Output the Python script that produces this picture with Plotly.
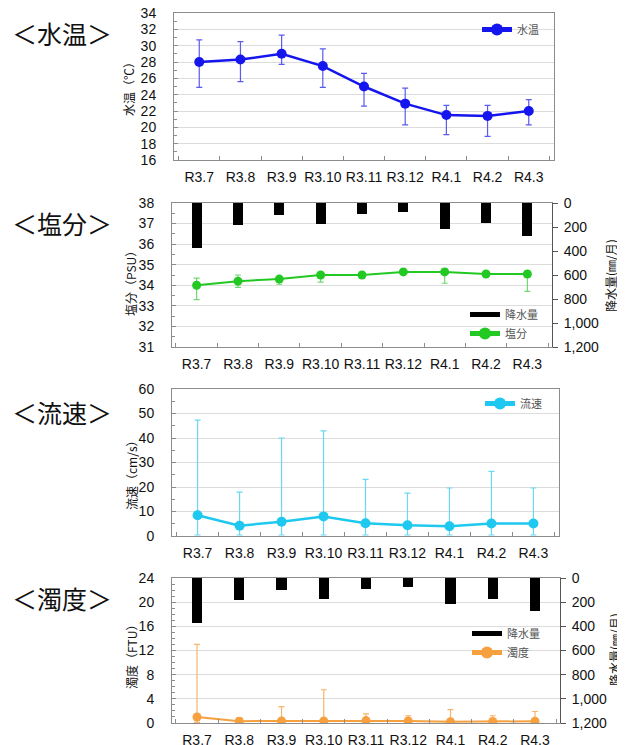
import plotly.graph_objects as go

# ---------------- data ----------------
months = ["R3.7", "R3.8", "R3.9", "R3.10", "R3.11", "R3.12", "R4.1", "R4.2", "R4.3"]

temp = [28.0, 28.3, 29.0, 27.5, 25.0, 22.9, 21.5, 21.4, 22.0]
temp_max = [30.7, 30.5, 31.3, 29.6, 26.6, 24.8, 22.7, 22.7, 23.4]
temp_min = [24.9, 25.6, 27.7, 24.9, 22.6, 20.3, 19.1, 18.9, 20.3]

sal = [34.0, 34.2, 34.3, 34.5, 34.5, 34.65, 34.65, 34.55, 34.55]
sal_max = [34.35, 34.5, 34.4, 34.6, 34.6, 34.75, 34.8, 34.65, 34.6]
sal_min = [33.3, 33.9, 34.05, 34.15, 34.4, 34.55, 34.1, 34.45, 33.7]

rain = [375, 180, 97, 172, 95, 76, 215, 170, 275]

speed = [8.5, 4.2, 5.8, 8.0, 5.2, 4.4, 4.0, 5.1, 5.1]
speed_max = [47.3, 17.9, 40.0, 42.9, 23.1, 17.5, 19.6, 26.4, 19.6]
speed_min = [0.4, 0.4, 0.4, 0.4, 0.4, 0.4, 0.4, 0.4, 0.4]

turb = [1.0, 0.3, 0.35, 0.35, 0.4, 0.35, 0.2, 0.25, 0.3]
turb_max = [13.0, 0.9, 2.7, 5.5, 1.5, 1.2, 2.2, 1.2, 1.9]
turb_min = [0.1, 0.05, 0.05, 0.05, 0.05, 0.05, 0.0, 0.0, 0.05]

# ---------------- helpers ----------------
W, H = 625, 745
OFF = 8  # page body margin compensation
def fx(x):
    return (x - OFF) / W
def fy(y):
    return 1 - (y - OFF) / H
def xd(a, b):
    return [fx(a), fx(b)]
def yd(top, bottom):
    return [fy(bottom), fy(top)]

FONT = "Liberation Sans, Arial, sans-serif"
CJK = "Noto Sans CJK JP, sans-serif"
FRAME = "#8c8c8c"
GRID = "#dcdcdc"

def errs(v, hi, lo):
    return ([h - a for a, h in zip(v, hi)], [a - l for a, l in zip(v, lo)])

fig = go.Figure()

def series(x_ax, y_ax, vals, hi, lo, color, ecolor, name, legend, size=10, lw=2.5):
    up, dn = errs(vals, hi, lo)
    fig.add_trace(go.Scatter(
        x=months, y=vals, mode="lines+markers", name=name,
        xaxis=x_ax, yaxis=y_ax, legend=legend,
        line=dict(color=color, width=lw),
        marker=dict(color=color, size=size),
        error_y=dict(type="data", symmetric=False, array=up, arrayminus=dn,
                     color=ecolor, thickness=1.2, width=3),
    ))

def rain_bars(x_ax, y_ax, legend):
    fig.add_trace(go.Bar(
        x=months, y=rain, name="降水量", xaxis=x_ax, yaxis=y_ax, legend=legend,
        marker=dict(color="#000000", line=dict(width=0)), width=0.24,
        showlegend=False,
    ))
    # legend-only entry drawn as a wide black swatch
    fig.add_trace(go.Scatter(
        x=[None], y=[None], mode="lines", name="降水量", xaxis=x_ax, yaxis=y_ax,
        legend=legend, line=dict(color="#000000", width=7),
    ))

rain_bars("x2", "y3", "legend2")
rain_bars("x4", "y6", "legend4")

series("x", "y", temp, temp_max, temp_min, "#1515ee", "#5a5af0", "水温", "legend", size=10, lw=2.5)
series("x2", "y2", sal, sal_max, sal_min, "#22c922", "#70d870", "塩分", "legend2", size=9, lw=2)
series("x3", "y4", speed, speed_max, speed_min, "#1ec8ef", "#6ad8f2", "流速", "legend3", size=10, lw=2.5)
series("x4", "y5", turb, turb_max, turb_min, "#f6a040", "#f7b46c", "濁度", "legend4", size=9, lw=2)

def xaxis(dom, anchor):
    return dict(domain=dom, anchor=anchor, type="category", automargin=False,
                showline=True, linecolor=FRAME, linewidth=1, mirror=True,
                ticks="inside", tickson="boundaries", ticklen=4, tickcolor=FRAME,
                showgrid=False, tickangle=0, ticklabeloverflow="allow",
                tickfont=dict(family=FONT, size=14, color="#111"),
                ticklabelstandoff=4, fixedrange=True)

def yleft(dom, anchor, rng, dtick, minor):
    return dict(domain=dom, anchor=anchor, range=rng, dtick=dtick, automargin=False,
                showline=True, linecolor=FRAME, linewidth=1, mirror=True,
                ticks="inside", ticklen=4, tickcolor=FRAME, ticklabeloverflow="allow",
                minor=dict(dtick=minor, ticks="inside", ticklen=3, tickcolor=FRAME, showgrid=False),
                showgrid=True, gridcolor=GRID, gridwidth=1, zeroline=False,
                tickfont=dict(family=FONT, size=14, color="#111"),
                ticklabelstandoff=14, fixedrange=True)

def yright(overlay, anchor):
    return dict(overlaying=overlay, anchor=anchor, side="right", range=[1200, 0],
                dtick=200, tickformat=",d", showline=True, linecolor="#555",
                linewidth=1, ticks="outside", ticklen=5, tickcolor="#555",
                showgrid=False, zeroline=False, automargin=False,
                ticklabeloverflow="allow",
                tickfont=dict(family=FONT, size=14, color="#111"),
                ticklabelstandoff=3, fixedrange=True)

P1 = (xd(174, 554), yd(13, 160))
P2 = (xd(172, 552), yd(203, 347))
P3 = (xd(172, 559), yd(389, 536))
P4 = (xd(172, 560), yd(578, 723))

layout = dict(
    width=W, height=H, margin=dict(l=0, r=0, t=0, b=0, autoexpand=False),
    paper_bgcolor="white", plot_bgcolor="white", showlegend=True,
    bargap=0,
    xaxis=xaxis(P1[0], "y"),
    yaxis=yleft(P1[1], "x", [16, 34], 2, 1),
    xaxis2=xaxis(P2[0], "y2"),
    yaxis2=yleft(P2[1], "x2", [31, 38], 1, 0.5),
    yaxis3=yright("y2", "x2"),
    xaxis3=xaxis(P3[0], "y4"),
    yaxis4=yleft(P3[1], "x3", [0, 60], 10, 5),
    xaxis4=xaxis(P4[0], "y5"),
    yaxis5=yleft(P4[1], "x4", [0, 24], 4, 1),
    yaxis6=yright("y5", "x4"),
)

legfont = dict(family=CJK, size=11, color="#555")
def leg(xr, ytop):
    return dict(x=fx(xr), y=fy(ytop), xanchor="right", yanchor="top",
                bgcolor="rgba(0,0,0,0)", font=legfont, itemwidth=30,
                tracegroupgap=0, itemsizing="constant")

layout["legend"] = leg(544, 15)
layout["legend2"] = leg(543, 300)
layout["legend3"] = leg(547, 389)
layout["legend4"] = leg(545, 619)

fig.update_layout(**layout)

# panel titles
for text, yc in [("＜水温＞", 33), ("＜塩分＞", 223), ("＜流速＞", 412), ("＜濁度＞", 598)]:
    fig.add_annotation(text=text, x=fx(62), y=fy(yc), xref="paper", yref="paper",
                       showarrow=False, xanchor="center", yanchor="middle",
                       font=dict(family=CJK, size=25, color="#111"))

# axis titles
for text, xc, yc in [("水温（℃）", 128, 86), ("塩分（PSU）", 130, 281),
                     ("流速（cm/s）", 131, 472), ("濁度（FTU）", 131, 654),
                     ("降水量(㎜/月)", 610, 276), ("降水量(㎜/月)", 614, 650)]:
    fig.add_annotation(text=text, x=fx(xc), y=fy(yc), xref="paper", yref="paper",
                       showarrow=False, textangle=-90, xanchor="center", yanchor="middle",
                       font=dict(family=CJK, size=12, color="#111"))

fig.write_html("out.html")
